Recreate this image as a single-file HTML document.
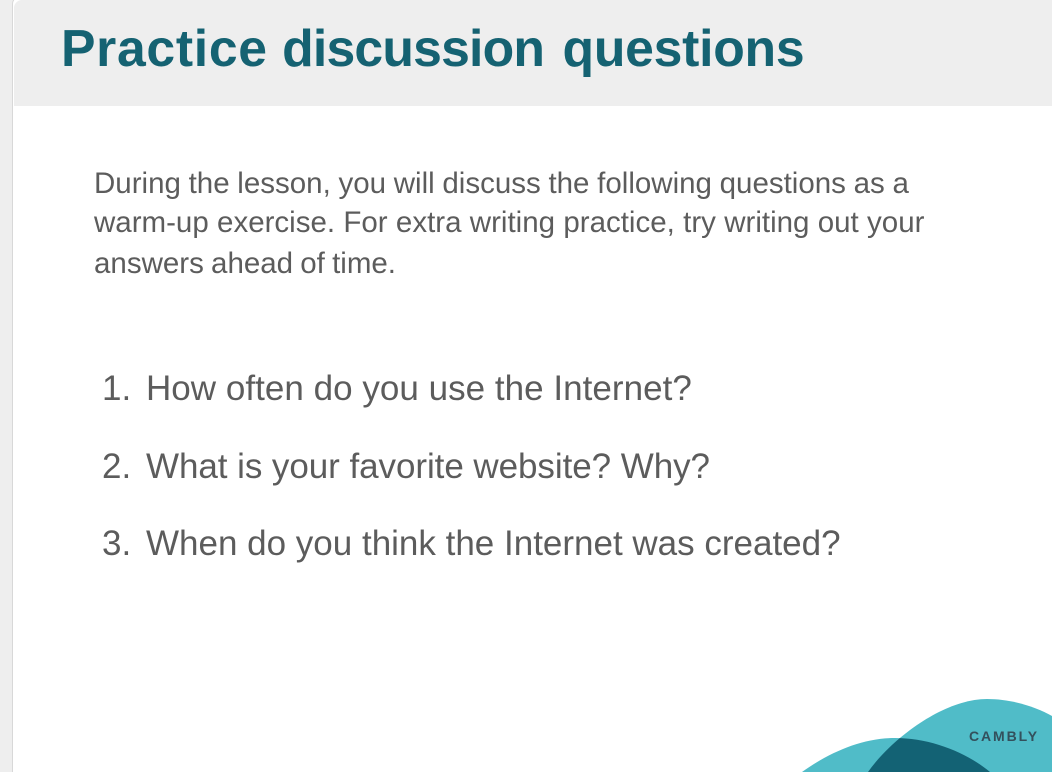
<!DOCTYPE html>
<html lang="en">
<head>
<meta charset="utf-8">
<title>Practice discussion questions</title>
<style>
html,body{margin:0;padding:0;width:1052px;height:772px;overflow:hidden;background:#eeeeee;}
body{position:relative;font-family:"Liberation Sans",sans-serif;}
.t{position:absolute;white-space:nowrap;margin:0;}
#slide{position:absolute;left:12px;top:-4px;width:1046px;height:790px;background:#fff;border:1.5px solid #d8d8d8;border-radius:8px;box-sizing:border-box;overflow:hidden;}
#head{position:absolute;left:13.5px;top:0;width:1040px;height:106px;background:#eeeeee;border-top-left-radius:8px;}
#title{left:61px;top:19px;font-size:51.7px;line-height:58px;font-weight:700;color:#156272;}
.body{font-size:29.5px;line-height:36px;color:#5c5c5c;left:94px;}
.q{font-size:35px;line-height:40px;color:#5c5c5c;}
</style>
</head>
<body>
<div id="slide"></div>
<div id="head"></div>
<h1 class="t" id="title"><span style="letter-spacing:0.7px">Practice</span> <span style="letter-spacing:-0.8px">discussion</span><span style="word-spacing:4px"> </span><span style="letter-spacing:-0.25px">questions</span></h1>
<p class="t body" style="top:166px;word-spacing:-0.5px">During the lesson, you will discuss the following questions as a</p>
<p class="t body" style="top:205px;word-spacing:0.1px">warm-up exercise. For extra writing practice, try writing out your</p>
<p class="t body" style="top:246px;word-spacing:-1px">answers ahead of time.</p>
<span class="t q" style="left:102px;top:369px">1.</span>
<span class="t q" style="left:146px;top:369px;letter-spacing:0.03px">How often do you use the Internet?</span>
<span class="t q" style="left:102px;top:447px">2.</span>
<span class="t q" style="left:146px;top:447px;letter-spacing:-0.06px">What is your favorite website? Why?</span>
<span class="t q" style="left:102px;top:524px">3.</span>
<span class="t q" style="left:146px;top:524px">When do you think the Internet was created?</span>
<svg style="position:absolute;left:0;top:0" width="1052" height="772" viewBox="0 0 1052 772">
  <defs>
    <clipPath id="big"><path d="M868 772 C892 738 944 699 987 699 C1012 699 1036 707 1052 716 L1052 772 Z"/></clipPath>
  </defs>
  <path d="M868 772 C892 738 944 699 987 699 C1012 699 1036 707 1052 716 L1052 772 Z" fill="#50bcc8"/>
  <path d="M802 772 C830 752 862 738 895 738 C930 738 966 752 990 772 Z" fill="#50bcc8"/>
  <path clip-path="url(#big)" d="M802 772 C830 752 862 738 895 738 C930 738 966 752 990 772 Z" fill="#136274"/>
  <text x="969" y="741" font-family="Liberation Sans, sans-serif" font-size="14" font-weight="700" letter-spacing="1.9" fill="#33505c">CAMBLY</text>
</svg>
</body>
</html>
